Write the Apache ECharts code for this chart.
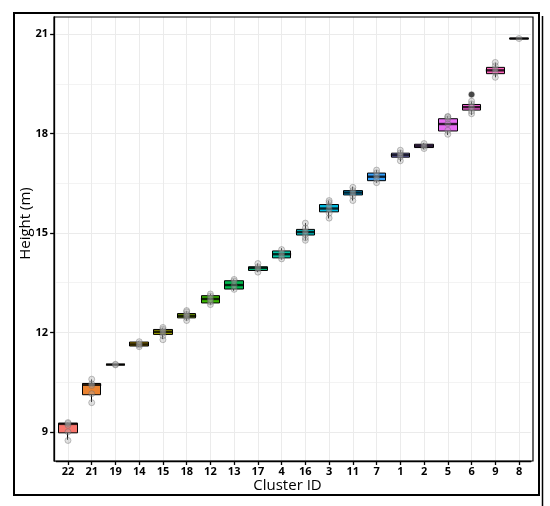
<!DOCTYPE html>
<html>
<head>
<meta charset="utf-8">
<script src="https://cdn.jsdelivr.net/npm/echarts@6/dist/echarts.min.js"></script>
<style>
html,body{margin:0;padding:0;background:#fff;}
#chart{width:550px;height:506px;}
</style>
</head>
<body>
<div id="chart"></div>
<script>
const clusters = ['22','21','19','14','15','18','12','13','17','4','16','3','11','7','1','2','5','6','9','8'];
const whiskerLow  = [8.76, 9.90, 11.01, 11.57, 11.80, 12.36, 12.84, 13.26, 13.82, 14.20, 14.78, 15.44, 15.98, 16.52, 17.16, 17.53, 17.96, 18.57, 19.70, 20.85];
const q1          = [8.97, 10.12, 11.02, 11.59, 11.94, 12.44, 12.89, 13.31, 13.87, 14.25, 14.94, 15.64, 16.15, 16.58, 17.29, 17.58, 18.08, 18.71, 19.81, 20.86];
const median      = [9.24, 10.42, 11.03, 11.64, 12.02, 12.50, 13.01, 13.43, 13.95, 14.36, 15.03, 15.74, 16.22, 16.70, 17.35, 17.63, 18.29, 18.80, 19.91, 20.87];
const q3          = [9.26, 10.46, 11.04, 11.71, 12.09, 12.57, 13.11, 13.56, 13.98, 14.46, 15.11, 15.86, 16.28, 16.81, 17.41, 17.68, 18.45, 18.88, 20.00, 20.88];
const whiskerHigh = [9.28, 10.58, 11.05, 11.73, 12.14, 12.64, 13.17, 13.60, 14.08, 14.54, 15.30, 15.98, 16.40, 16.90, 17.50, 17.72, 18.53, 18.97, 20.14, 20.89];
const outlierCluster = ['6'];
const outlierValue = [19.18];
const pointValues = [
  [8.74, 9.00, 9.20, 9.25, 9.28],
  [9.88, 10.15, 10.40, 10.45, 10.59],
  [11.02, 11.04],
  [11.57, 11.62, 11.66, 11.72],
  [11.78, 11.90, 11.98, 12.05, 12.10, 12.15],
  [12.36, 12.45, 12.50, 12.55, 12.62, 12.66],
  [12.84, 12.92, 13.00, 13.10, 13.16],
  [13.30, 13.42, 13.55, 13.60],
  [13.82, 13.92, 13.98, 14.08],
  [14.22, 14.30, 14.40, 14.50],
  [14.78, 14.86, 14.96, 15.05, 15.15, 15.30],
  [15.45, 15.60, 15.72, 15.82, 15.92, 15.98],
  [15.98, 16.12, 16.20, 16.28, 16.38],
  [16.52, 16.62, 16.72, 16.82, 16.90],
  [17.18, 17.30, 17.36, 17.42, 17.50],
  [17.55, 17.62, 17.70],
  [17.98, 18.10, 18.30, 18.45, 18.50, 18.52],
  [18.60, 18.68, 18.80, 18.90, 18.98, 19.18],
  [19.70, 19.85, 19.95, 20.05, 20.15],
  [20.87]
];
const fillColors = ['#F8766D','#EA8331','#D89000','#C09B00','#A3A500','#7CAE00','#39B600','#00BB4E','#00BF7D','#00C1A3',
                    '#00BFC4','#00BAE0','#00B0F6','#35A2FF','#9590FF','#C77CFF','#E76BF3','#FA62DB','#FF62BC','#FF6C91'];
const yTicks = [9, 12, 15, 18, 21];
const yMinorTicks = [10.5, 13.5, 16.5, 19.5];
const yMin = 8.12, yMax = 21.52;

const font = '"Open Sans", "DejaVu Sans", sans-serif';

const boxData = clusters.map((c, i) => ({
  value: [q1[i], q3[i], whiskerLow[i], whiskerHigh[i]],
  itemStyle: {color: fillColors[i], color0: fillColors[i], borderColor: '#000', borderColor0: '#000', borderColorDoji: '#000', borderWidth: 1}
}));
const medianData = clusters.map((c, i) => [c, median[i]]);
const pointData = [];
clusters.forEach((c, i) => pointValues[i].forEach(v => pointData.push([c, v])));
const outlierData = outlierCluster.map((c, i) => [c, outlierValue[i]]);

const chart = echarts.init(document.getElementById('chart'), null, {renderer: 'canvas'});
chart.setOption({
  backgroundColor: '#fff',
  animation: false,
  grid: {left: 56.1, right: 19.1, top: 17, bottom: 45, containLabel: false},
  xAxis: {
    type: 'category',
    data: clusters,
    boundaryGap: true,
    axisLine: {show: true, lineStyle: {color: '#000', width: 1.3}},
    axisTick: {show: true, alignWithLabel: true, length: 4, lineStyle: {color: '#000', width: 1.3}},
    axisLabel: {color: '#000', fontSize: 11, fontWeight: 'bold', fontFamily: font, margin: 5, interval: 0},
    splitLine: {show: true, alignWithLabel: true, lineStyle: {color: '#ebebeb', width: 1}}
  },
  yAxis: [{
    type: 'value',
    min: yMin, max: yMax,
    offset: 2,
    axisLine: {show: true, lineStyle: {color: '#000', width: 1.3}},
    axisTick: {show: true, length: 4, customValues: yTicks, lineStyle: {color: '#000', width: 1.3}},
    axisLabel: {color: '#000', fontSize: 11, fontWeight: 'bold', fontFamily: font, margin: 6, customValues: yTicks},
    splitLine: {show: true, lineStyle: {color: '#ebebeb', width: 1}}
  }, {
    type: 'value',
    min: yMin, max: yMax,
    position: 'left',
    axisLine: {show: false},
    axisTick: {show: false, customValues: yMinorTicks},
    axisLabel: {show: false, customValues: yMinorTicks},
    splitLine: {show: true, lineStyle: {color: '#f3f3f3', width: 1}}
  }],
  graphic: [
    {type: 'rect', shape: {x: 54, y: 17, width: 479, height: 444}, style: {fill: 'none', stroke: '#000', lineWidth: 1.2}, z: 100, silent: true},
    {type: 'rect', shape: {x: 14, y: 13, width: 525, height: 482}, style: {fill: 'none', stroke: '#000', lineWidth: 2}, z: 100, silent: true},
    {type: 'line', shape: {x1: 542.5, y1: 16, x2: 542.5, y2: 506}, style: {stroke: '#000', lineWidth: 1.5}, z: 100, silent: true},
    {type: 'text', x: 26, y: 223.5, rotation: Math.PI / 2,
     style: {text: 'Height (m)', textAlign: 'center', textVerticalAlign: 'middle', font: '15px ' + font, fill: '#000'}, z: 100},
    {type: 'text', x: 287.5, y: 485.5,
     style: {text: 'Cluster ID', textAlign: 'center', textVerticalAlign: 'middle', font: '15px ' + font, fill: '#000'}, z: 100}
  ],
  series: [
    {
      type: 'candlestick',
      name: 'box',
      data: boxData,
      barWidth: '80%',
      z: 2
    },
    {
      type: 'scatter',
      name: 'median',
      data: medianData,
      symbol: 'rect',
      symbolSize: [19, 2.4],
      itemStyle: {color: '#000'},
      z: 3
    },
    {
      type: 'scatter',
      name: 'points',
      data: pointData,
      symbol: 'circle',
      symbolSize: 6,
      itemStyle: {color: 'rgba(175,175,175,0.45)', borderColor: 'rgba(95,95,95,0.6)', borderWidth: 0.8},
      z: 4
    },
    {
      type: 'scatter',
      name: 'outlier',
      data: outlierData,
      symbol: 'circle',
      symbolSize: 5.5,
      itemStyle: {color: '#222'},
      z: 5
    }
  ]
});
</script>
</body>
</html>
